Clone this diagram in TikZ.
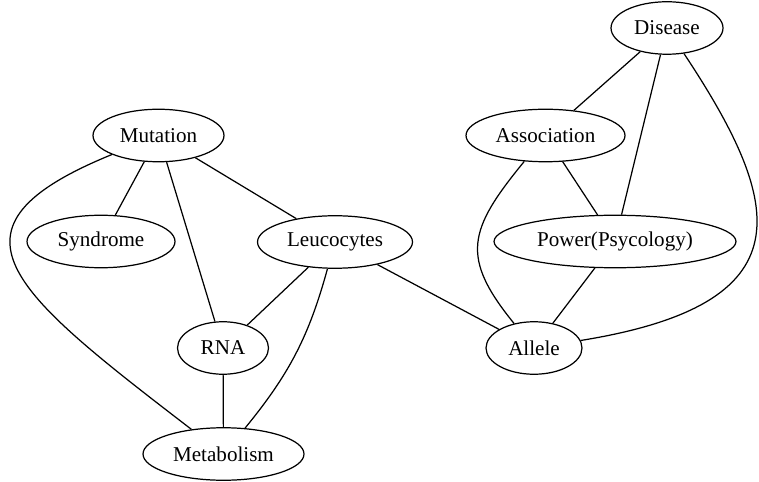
\documentclass[tikz,border=0pt]{standalone}
\usepackage{fontspec}
\setmainfont{Liberation Serif}
\usepackage{tikz}
\usetikzlibrary{shapes.geometric}
\tikzset{graph-line/.style={line width=0.7pt}}
\tikzset{term-node/.style={draw, ellipse, line width=0.7pt, inner sep=0, minimum height=1.05cm, font=\fontsize{12}{14}\selectfont}}

\begin{document}
\begin{tikzpicture}[x=0.02cm, y=-0.02cm]
            \useasboundingbox (0,0) rectangle (759,482);

            \node[term-node, minimum width=2.24cm] (disease) at (667,28) {Disease};
            \node[term-node, minimum width=2.62cm] (mutation) at (158.5,135.5) {Mutation};
            \node[term-node, minimum width=3.18cm] (association) at (545.5,135.5) {Association};
            \node[term-node, minimum width=2.96cm] (syndrome) at (101,241.5) {Syndrome};
            \node[term-node, minimum width=3.10cm] (leucocytes) at (335,242) {Leucocytes};
            \node[term-node, minimum width=4.84cm] (power) at (615,241.5) {Power(Psycology)};
            \node[term-node, minimum width=1.82cm] (rna) at (223,348) {RNA};
            \node[term-node, minimum width=1.92cm] (allele) at (534,348) {Allele};
            \node[term-node, minimum width=3.22cm] (metabolism) at (223.5,454) {Metabolism};

            % left cluster
            \draw[graph-line] (mutation) -- (syndrome);
            \draw[graph-line] (mutation) -- (rna);
            \draw[graph-line] (mutation) -- (leucocytes);
            \draw[graph-line] (mutation) .. controls (-68,228) and (10,290) .. (metabolism);
            \draw[graph-line] (leucocytes) -- (rna);
            \draw[graph-line] (leucocytes) to[bend left=12] (metabolism);
            \draw[graph-line] (rna) -- (metabolism);
            \draw[graph-line] (leucocytes) -- (allele);

            % right cluster
            \draw[graph-line] (disease) -- (association);
            \draw[graph-line] (disease) -- (power);
            \draw[graph-line] (disease) .. controls (785,206) and (807,304) .. (allele);
            \draw[graph-line] (association) -- (power);
            \draw[graph-line] (association) .. controls (468,230) and (460,257) .. (allele);
            \draw[graph-line] (power) -- (allele);
        \end{tikzpicture}
\end{document}
